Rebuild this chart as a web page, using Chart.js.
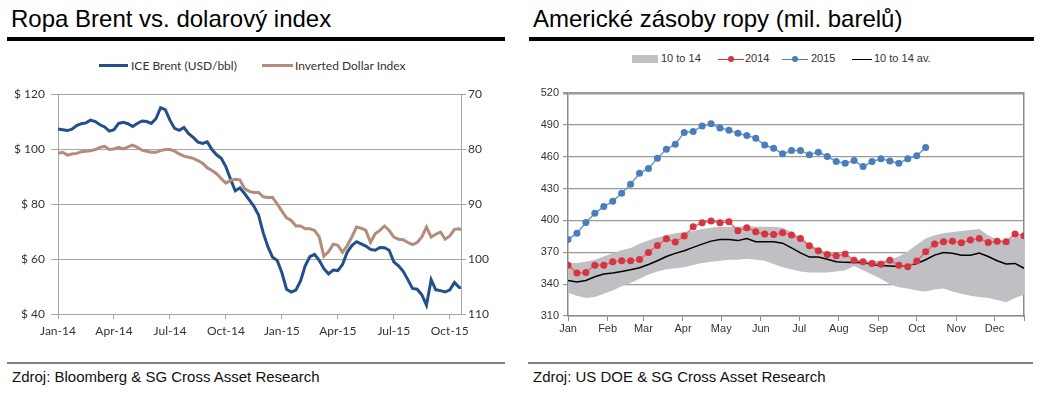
<!DOCTYPE html>
<html><head><meta charset="utf-8">
<script src="https://cdn.jsdelivr.net/npm/chart.js@4.4.1/dist/chart.umd.min.js"></script>
<style>
body{margin:0;width:1049px;height:393px;background:#fff;position:relative;overflow:hidden;font-family:'Liberation Sans',Arial,sans-serif;}
.title{position:absolute;top:6.5px;font-size:24px;line-height:1;color:#000;white-space:nowrap;}
.rule{position:absolute;height:4px;background:#000;top:36.5px;}
.frule{position:absolute;height:2px;background:#7f7f7f;top:362px;}
.foot{position:absolute;top:369px;font-size:15px;line-height:1;color:#111;white-space:nowrap;}
.lg{position:absolute;white-space:nowrap;line-height:1;}
.ln{position:absolute;}
canvas{position:absolute;top:80px;}
</style></head>
<body>
<div class="title" style="left:11px">Ropa Brent vs. dolarový index</div>
<div class="rule" style="left:7px;width:498px"></div>
<div class="title" style="left:533px">Americké zásoby ropy (mil. barelů)</div>
<div class="rule" style="left:529px;width:505px"></div>

<div id="leg1"></div>
<div id="leg2"></div>

<canvas id="c1" width="520" height="265" style="left:0px"></canvas>
<canvas id="c2" width="524" height="265" style="left:525px"></canvas>

<div class="frule" style="left:7px;width:498px"></div>
<div class="frule" style="left:528px;width:505px"></div>
<div class="foot" style="left:12px">Zdroj: Bloomberg &amp; SG Cross Asset Research</div>
<div class="foot" style="left:533px">Zdroj: US DOE &amp; SG Cross Asset Research</div>

<script>
// ---------- Left chart data (x in months since Jan-2014) ----------
const monthsT = [0,0.25,0.5,0.75,1,1.25,1.5,1.75,2,2.25,2.5,2.75,3,3.25,3.5,3.75,4,4.25,4.5,4.75,5,5.25,5.5,5.75,6,6.25,6.5,6.75,7,7.25,7.5,7.75,8,8.25,8.5,8.75,9,9.25,9.5,9.75,10,10.25,10.5,10.75,11,11.25,11.5,11.75,12,12.25,12.5,12.75,13,13.25,13.5,13.75,14,14.25,14.5,14.75,15,15.25,15.5,15.75,16,16.25,16.5,16.75,17,17.25,17.5,17.75,18,18.25,18.5,18.75,19,19.25,19.5,19.75,20,20.25,20.5,20.75,21,21.25,21.5,21.6];
const brent = [107.3,107.0,106.7,107.2,108.5,109.2,109.5,110.5,110,108.8,108,106.5,107,109.3,109.7,109.2,108.2,109.3,110.2,110,109.3,111,115,114.3,110.5,107.5,106.8,107.8,105.6,104.2,102.5,102,102.6,99.8,97.9,96.6,93.5,89,84.8,85.8,83.8,81.5,79.2,76,69.5,64.5,60.6,59.5,55,49,48,48.7,52,57.5,60.9,61.7,59.5,56.5,54.6,56,55.8,58,62.5,64.9,66.3,65.5,64.7,63.5,63.2,64.2,64.1,63.2,59,57.5,55.5,52.5,49.3,49,47,43.2,52.5,48.8,48.5,48,48.8,51.5,49.7,49.5];
const dollarIdx = [80.8,80.6,81.1,80.9,80.8,80.5,80.4,80.3,80.1,79.7,79.5,80.1,80,79.7,80,79.6,79.3,79.7,80.2,80.4,80.6,80.6,80.3,80.1,80.1,80.4,80.9,81.3,81.5,81.7,82.1,82.6,83.4,83.9,84.5,85.4,86.2,85.7,85.5,85.6,87.2,87.7,87.9,87.9,88.7,88.8,88.8,90,91.3,92.5,93,94,94,94.5,94.5,94.8,96,99.5,98.7,97.3,97.5,98.8,97.6,96,94.2,94.4,94.8,97,95.4,94.8,94,94.8,96,96.4,96.5,97,97.4,97,96,94.2,96,95.5,95.1,96.4,95.8,94.6,94.5,94.7];
const leftTickPos = [0,3,6,9,12,15,18,21];
const leftTickLabels = ['Jan-14','Apr-14','Jul-14','Oct-14','Jan-15','Apr-15','Jul-15','Oct-15'];

// ---------- Right chart data (x in weeks of year) ----------
const weeks = [0,1,2,3,4,5,6,7,8,9,10,11,12,13,14,15,16,17,18,19,20,21,22,23,24,25,26,27,28,29,30,31,32,33,34,35,36,37,38,39,40,41,42,43,44,45,46,47,48,49,50,51];
const bandHigh = [360,360,361,363,366,369,372,374,378,381,384,386,388,389,390,392,393,394,394,394,395,394,394,394,393,389,384,378,373,370,369,367,363,362,362,362,363,366,371,377,383,386,388,389,390,391,392,386,382,381,384,386];
const bandLow = [332,329,327,328,331,334,338,341,345,349,352,354,355,356,358,360,361,362,363,363,364,363,362,359,356,354,352,351,351,351,352,353,357,353,349,345,340,337,336,334,333,335,336,333,331,329,328,327,325,323,327,330];
const avg1014 = [343.5,342,343.5,347,349.5,350.5,352,353.5,355.5,358.5,362,366,369,371.4,374.6,377.7,380.5,382,382,381,383,380,380,380,378.6,374.2,369.5,365.5,365.5,363.5,361,360.5,360.3,360.5,358.5,357.5,357,356.5,357.5,359.5,363,367.3,369.8,369,367.3,367.3,369.3,366,362,359,359.5,355];
const y2014 = [357.9,350.6,351,357.9,357.9,361,362,362,363.2,369.8,376.4,382.7,379.6,385.3,394,397.9,399.4,397.9,398.8,390.3,393.1,389.4,387.2,386.8,388.4,386.2,383,376.1,371.4,368,366.7,368.3,362.6,361,359.5,358.8,362.6,357.9,356.3,361.7,370.5,377.7,379.9,380.5,379,381.5,383,379.3,380.5,379.9,387.2,385.6];
const y2015 = [382,388,398,406.7,413,418,425.6,434,444.4,449,458.6,467,471.8,482.9,483.8,489,491,487,485,482,480,477.5,471,468,462.7,465.9,465.9,461.8,464.3,460.2,455.5,453.9,456.4,450.7,455.5,458,456,453.9,458,460.8,468.7];
const monthTickPos = [0,4.43,8.43,12.86,17.14,21.57,25.86,30.29,34.71,39,43.43,47.71,51];
const monthLabels = ['Jan','Feb','Mar','Apr','May','Jun','Jul','Aug','Sep','Oct','Nov','Dec',''];

// ---------- font detection ----------
function hasFont(name){const c=document.createElement('canvas').getContext('2d');c.font='20px monospace';const a=c.measureText('abcdefghiMWx012').width;c.font="20px '"+name+"', monospace";return c.measureText('abcdefghiMWx012').width!==a;}
const NARROW = hasFont('Liberation Sans Narrow');
const nf = NARROW ? "'Liberation Sans Narrow'" : "'Liberation Sans'";
const nsize = NARROW ? 13 : 11;

// ---------- legends (HTML) ----------
function addLeg(parent, html){parent.insertAdjacentHTML('beforeend', html);}
const leg1=document.getElementById('leg1');
addLeg(leg1,'<div class="ln" style="left:99px;top:63.5px;width:29px;height:3px;background:#22508c"></div>');
addLeg(leg1,'<div class="lg" style="left:131px;top:58px;font:12px Lato;color:#333">ICE Brent (USD/bbl)</div>');
addLeg(leg1,'<div class="ln" style="left:262px;top:63.5px;width:31px;height:3px;background:#b48c7a"></div>');
addLeg(leg1,'<div class="lg" style="left:295px;top:58px;font:12px Lato;color:#333">Inverted Dollar Index</div>');
const leg2=document.getElementById('leg2');
const lf = 'font:'+nsize+'px '+nf+';color:#333;top:51.5px';
addLeg(leg2,'<div class="ln" style="left:632px;top:55px;width:26px;height:8px;background:#c0c0c4"></div>');
addLeg(leg2,'<div class="lg" style="left:661px;'+lf+'">10 to 14</div>');
addLeg(leg2,'<div class="ln" style="left:718px;top:58.5px;width:26px;height:1px;background:#d8333f"></div>');
addLeg(leg2,'<div class="ln" style="left:728px;top:56px;width:6px;height:6px;border-radius:50%;background:#d8333f"></div>');
addLeg(leg2,'<div class="lg" style="left:745px;'+lf+'">2014</div>');
addLeg(leg2,'<div class="ln" style="left:782px;top:58.5px;width:26px;height:1px;background:#4a7ebb"></div>');
addLeg(leg2,'<div class="ln" style="left:792px;top:56px;width:6px;height:6px;border-radius:50%;background:#4a7ebb"></div>');
addLeg(leg2,'<div class="lg" style="left:811px;'+lf+'">2015</div>');
addLeg(leg2,'<div class="ln" style="left:852px;top:58.5px;width:20px;height:1.2px;background:#000"></div>');
addLeg(leg2,'<div class="lg" style="left:874px;'+lf+'">10 to 14 av.</div>');

// ---------- Left chart ----------
const pts = (xs, ys) => ys.map((v,i)=>({x:xs[i], y:v}));
const lfont = {family:'Lato', size:12};
new Chart(document.getElementById('c1'), {
  type:'line',
  data:{datasets:[
    {label:'Inverted Dollar Index', data:pts(monthsT,dollarIdx), yAxisID:'y2', borderColor:'#b48c7a', borderWidth:3, pointRadius:0, tension:0, order:0},
    {label:'ICE Brent (USD/bbl)', data:pts(monthsT,brent), yAxisID:'y', borderColor:'#22508c', borderWidth:3, pointRadius:0, tension:0, order:1}
  ]},
  options:{
    responsive:false, animation:false,
    layout:{padding:{top:14,left:0,right:0,bottom:0}},
    plugins:{legend:{display:false}, tooltip:{enabled:false}},
    scales:{
      x:{type:'linear', min:0, max:21.6,
        afterBuildTicks:s=>{s.ticks=leftTickPos.map(v=>({value:v}));},
        ticks:{callback:(v,i)=>leftTickLabels[i], font:lfont, color:'#333', padding:5, maxRotation:0, autoSkip:false},
        grid:{drawOnChartArea:false, color:'#a6a6a6', tickLength:5},
        border:{color:'#a6a6a6'},
        afterFit:s=>{s.height=31;}},
      y:{position:'left', min:40, max:120,
        ticks:{stepSize:20, callback:v=>'$ '+v, font:lfont, color:'#333', padding:6},
        grid:{color:'#a6a6a6', tickLength:7},
        border:{color:'#a6a6a6'},
        afterFit:s=>{s.width=58;}},
      y2:{position:'right', min:70, max:110, reverse:true,
        ticks:{stepSize:10, font:lfont, color:'#333', padding:2},
        grid:{drawOnChartArea:false, color:'#a6a6a6', tickLength:5},
        border:{color:'#a6a6a6'},
        afterFit:s=>{s.width=59;}}
    }
  }
});

// ---------- Right chart ----------
const rfont = {family:nf.replace(/'/g,''), size:nsize};
new Chart(document.getElementById('c2'), {
  type:'line',
  data:{datasets:[
    {label:'low', data:pts(weeks,bandLow), borderWidth:0, pointRadius:0, fill:false, order:5},
    {label:'10 to 14', data:pts(weeks,bandHigh), borderWidth:0, pointRadius:0, fill:'-1', backgroundColor:'#bfbfc4', order:4},
    {label:'10 to 14 av.', data:pts(weeks,avg1014), borderColor:'#000', borderWidth:1.5, pointRadius:0, tension:0, order:3},
    {label:'2014', data:pts(weeks,y2014), borderColor:'#e06a6c', borderWidth:1.5, pointRadius:3.5, pointBackgroundColor:'#d8333f', pointBorderColor:'#d8333f', pointBorderWidth:0, tension:0, order:2},
    {label:'2015', data:pts(weeks,y2015), borderColor:'#6a98d4', borderWidth:1.5, pointRadius:3.5, pointBackgroundColor:'#4a7ebb', pointBorderColor:'#4a7ebb', pointBorderWidth:0, tension:0, order:1}
  ]},
  options:{
    responsive:false, animation:false,
    layout:{padding:{top:13,left:0,right:0,bottom:0}},
    plugins:{legend:{display:false}, tooltip:{enabled:false}},
    scales:{
      x:{type:'linear', min:0, max:51,
        afterBuildTicks:s=>{s.ticks=monthTickPos.map(v=>({value:v}));},
        ticks:{callback:(v,i)=>monthLabels[i], font:rfont, color:'#333', padding:1, maxRotation:0, autoSkip:false},
        grid:{drawOnChartArea:false, color:'#8c8c8c', tickLength:5},
        border:{color:'#8c8c8c', width:1.5},
        afterFit:s=>{s.height=29;}},
      y:{position:'left', min:310, max:520,
        ticks:{stepSize:30, font:rfont, color:'#333', padding:4},
        grid:{color:'#9a9a9a', lineWidth:c=>c.tick && c.tick.value===520 ? 2.5 : 1.2, tickLength:5},
        border:{color:'#8c8c8c', width:1.5},
        afterFit:s=>{s.width=43;}},
      yr:{position:'right', min:310, max:520,
        ticks:{display:false},
        grid:{drawOnChartArea:false, drawTicks:false},
        border:{color:'#8c8c8c', width:1.5},
        afterFit:s=>{s.width=25;}}
    }
  }
});
</script>
</body></html>
